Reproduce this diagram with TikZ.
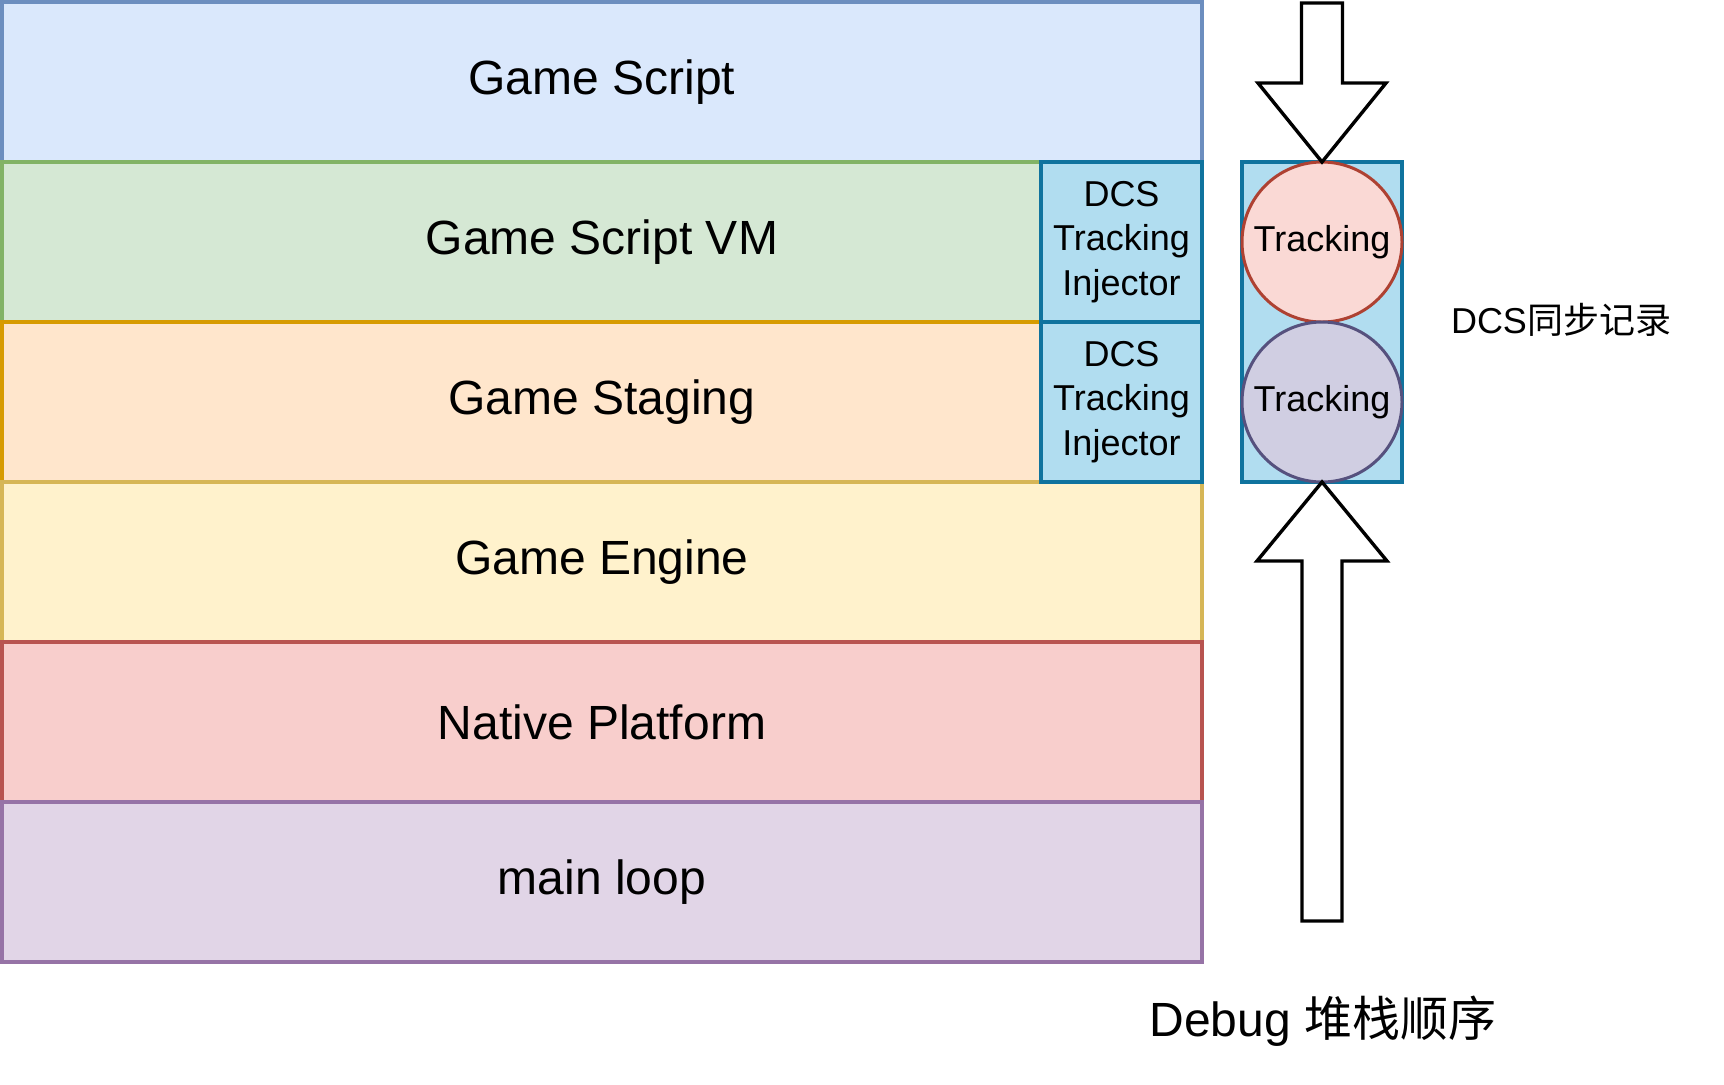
\documentclass[tikz,border=0pt]{standalone}
\usepackage{fontspec}
\setmainfont{Liberation Sans}
\newfontfamily\cjk{Noto Sans CJK SC}
\usepackage{xcolor}
\usetikzlibrary{positioning}

\definecolor{scriptfill}{HTML}{DAE8FC}\definecolor{scriptline}{HTML}{6C8EBF}
\definecolor{vmfill}{HTML}{D5E8D4}\definecolor{vmline}{HTML}{82B366}
\definecolor{stagefill}{HTML}{FFE6CC}\definecolor{stageline}{HTML}{D79B00}
\definecolor{enginefill}{HTML}{FFF2CC}\definecolor{engineline}{HTML}{D6B656}
\definecolor{nativefill}{HTML}{F8CECC}\definecolor{nativeline}{HTML}{B85450}
\definecolor{loopfill}{HTML}{E1D5E7}\definecolor{loopline}{HTML}{9673A6}
\definecolor{injfill}{HTML}{B1DDF0}\definecolor{injline}{HTML}{10739E}
\definecolor{redfill}{HTML}{FAD9D5}\definecolor{redline}{HTML}{AE4132}
\definecolor{violetfill}{HTML}{D0CEE2}\definecolor{violetline}{HTML}{56517E}

\begin{document}
\begin{tikzpicture}[x=0.5pt,y=-0.5pt,
            layer/.style={shape=rectangle, draw, line width=2pt, outer sep=0pt, inner sep=0pt,
                minimum width=600pt, minimum height=80pt, font=\fontsize{24}{28}\selectfont},
            injector/.style={shape=rectangle, draw=injline, fill=injfill, line width=2pt, outer sep=0pt,
                inner sep=0pt, minimum width=80.5pt, minimum height=80pt, align=center,
                font=\fontsize{18}{22.3}\selectfont},
            trk/.style={shape=circle, line width=1.5pt, minimum size=80pt, inner sep=0pt, outer sep=0pt,
                font=\fontsize{18}{20}\selectfont},
            bigarrow/.style={draw, line width=1.7pt, fill=white, line join=miter}]
        \useasboundingbox (0,0) rectangle (1724,1084);

        % stack layers
        \node[layer, fill=scriptfill, draw=scriptline] (script) at (602,82) {Game Script};
        \node[layer, fill=vmfill, draw=vmline, below=0pt of script] (vm) {Game Script VM};
        \node[layer, fill=stagefill, draw=stageline, below=0pt of vm] (staging) {Game Staging};
        \node[layer, fill=enginefill, draw=engineline, below=0pt of staging] (engine) {Game Engine};
        \node[layer, fill=nativefill, draw=nativeline, below=0pt of engine] (native) {Native Platform};
        \node[layer, fill=loopfill, draw=loopline, below=0pt of native] (mainloop) {main loop};

        \node[injector, anchor=north east] (inj1) at (vm.north east) {DCS\\Tracking\\Injector};
        \node[injector, below=0pt of inj1] (inj2) {DCS\\Tracking\\Injector};

        % tracking column
        \node[shape=rectangle, draw=injline, fill=injfill, line width=2pt, outer sep=0pt,
            minimum width=80pt, minimum height=160pt] (track) at (1322,322) {};
        \node[trk, draw=redline, fill=redfill] (trk1) at (1322,242) {Tracking};
        \node[trk, draw=violetline, fill=violetfill] (trk2) at (1322,402) {Tracking};

        \draw[bigarrow] (1301.5,3) -- (1342.5,3) -- (1342.5,83) -- (1386,83) -- (track.north)
            -- (1258,83) -- (1301.5,83) -- cycle;
        \draw[bigarrow] (track.south) -- (1387,561) -- (1342,561) -- (1342,921) -- (1302,921)
            -- (1302,561) -- (1257,561) -- cycle;

        \node[font=\fontsize{18}{20}\selectfont] (synclabel) at (1561,320) {DCS{\cjk 同步记录}};
        \node[font=\fontsize{24}{28}\selectfont] (orderlabel) at (1323,1021) {Debug {\cjk 堆栈顺序}};
    \end{tikzpicture}
\end{document}
